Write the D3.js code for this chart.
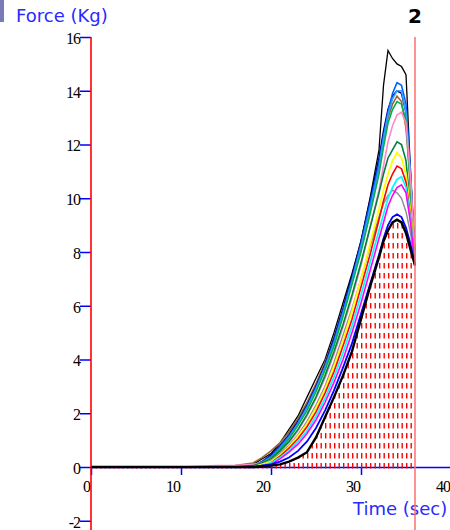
<!DOCTYPE html>
<html><head><meta charset="utf-8">
<script src="https://cdn.jsdelivr.net/npm/d3@7"></script>
<style>html,body{margin:0;padding:0;background:#fff;overflow:hidden}</style>
</head><body>
<svg id="c" width="450" height="530"></svg>
<script>
// ---- data ----
const times      = [0,10,14,16,18,19,20,21,22,23,24,25,26,27,28,29,30,31,32,32.5,33,33.5,34,34.5,35,35.5,36];
const blackThin  = [0,0,0,0,0.1,0.3,0.5,0.9,1.4,1.9,2.6,3.3,4.0,5.0,6.1,7.2,8.4,10.0,11.8,14.2,15.5,15.2,15.0,14.9,14.6,11.0,7.8];
const brown      = [0,0,0,0.05,0.15,0.35,0.6,0.9,1.3,1.8,2.4,3.1,3.9,4.8,5.8,6.9,8.1,9.6,11.2,12.2,13.0,13.5,13.8,13.6,12.6,10.5,7.9];
const navy       = [0,0,0,0,0.05,0.2,0.45,0.8,1.2,1.7,2.3,3.0,3.8,4.8,5.9,7.1,8.4,9.9,11.5,12.5,13.3,13.8,14.0,13.9,13.2,10.8,7.8];
const blue       = [0,0,0,0,0.05,0.2,0.4,0.75,1.15,1.65,2.25,2.95,3.75,4.7,5.8,7.0,8.3,9.8,11.3,12.3,13.2,13.9,14.3,14.2,13.5,11.0,7.9];
const sky        = [0,0,0,0,0.05,0.15,0.35,0.7,1.1,1.6,2.2,2.9,3.7,4.6,5.7,6.9,8.2,9.6,11.1,12.2,13.1,13.7,14.0,14.0,13.2,10.6,7.8];
const green      = [0,0,0,0,0.05,0.15,0.35,0.65,1.05,1.55,2.1,2.8,3.6,4.5,5.6,6.8,8.0,9.4,10.9,11.9,12.8,13.3,13.6,13.5,12.9,10.4,7.7];
const pink       = [0,0,0.05,0.05,0.1,0.15,0.3,0.55,0.9,1.35,1.9,2.55,3.3,4.2,5.2,6.3,7.5,8.9,10.3,11.2,12.1,12.7,13.1,13.2,12.8,10.8,7.9];
const darkGreen  = [0,0,0,0,0.05,0.15,0.3,0.6,0.95,1.4,1.95,2.6,3.4,4.3,5.3,6.4,7.6,8.9,10.2,10.9,11.5,11.8,12.1,12.0,11.4,9.6,7.6];
const gray       = [0,0,0,0,0,0.1,0.25,0.5,0.8,1.2,1.7,2.3,3.0,3.9,4.9,5.9,7.0,8.2,9.3,9.8,10.1,10.3,10.2,10.0,9.5,8.7,7.6];
const yellow     = [0,0,0,0,0,0.1,0.2,0.45,0.75,1.15,1.6,2.2,2.9,3.75,4.7,5.8,7.0,8.3,9.6,10.3,10.9,11.4,11.7,11.5,10.9,9.5,7.7];
const red        = [0,0,0,0,0,0.05,0.15,0.4,0.7,1.05,1.5,2.05,2.75,3.55,4.5,5.5,6.7,7.9,9.2,9.9,10.5,10.9,11.2,11.1,10.6,9.3,7.6];
const cyan       = [0,0,0,0,0,0.05,0.15,0.35,0.6,0.95,1.35,1.9,2.55,3.35,4.25,5.25,6.4,7.6,8.8,9.4,10.0,10.4,10.7,10.8,10.4,9.2,7.6];
const magenta    = [0,0,0,0,0,0.05,0.1,0.3,0.55,0.85,1.25,1.75,2.4,3.15,4.0,5.0,6.1,7.3,8.5,9.1,9.7,10.1,10.4,10.5,10.2,9.1,7.5];
const darkBlue   = [0,0,0,0,0,0.05,0.1,0.2,0.35,0.6,0.95,1.45,2.1,2.85,3.7,4.6,5.7,6.8,7.9,8.5,9.0,9.3,9.4,9.3,8.9,8.3,7.5];
const blackThick = [0,0,0,0,0,0.02,0.05,0.1,0.2,0.35,0.55,1.1,1.85,2.6,3.4,4.3,5.5,6.7,7.8,8.4,8.8,9.1,9.2,9.1,8.7,8.1,7.5];

const yTicks = [-2,0,2,4,6,8,10,12,14,16];
const xTicks = [0,10,20,30,40];
const yTitle = "Force (Kg)";
const xTitle = "Time (sec)";
const cursorLabel = "2";
const cursorTime = 36;

// ---- styles (kept apart from data) ----
const series = [
  {v: blackThin,  c: "#000000", w: 1.3},
  {v: brown,      c: "#996633", w: 1.6},
  {v: navy,       c: "#000080", w: 1.6},
  {v: blue,       c: "#0060ff", w: 1.6},
  {v: sky,        c: "#33a0ff", w: 1.6},
  {v: green,      c: "#00b050", w: 1.6},
  {v: pink,       c: "#ff88cc", w: 1.6},
  {v: darkGreen,  c: "#008040", w: 1.6},
  {v: gray,       c: "#909090", w: 1.5},
  {v: yellow,     c: "#ffff00", w: 1.8},
  {v: red,        c: "#ff0000", w: 1.6},
  {v: cyan,       c: "#00ffff", w: 1.8},
  {v: magenta,    c: "#ff00ff", w: 1.6},
  {v: darkBlue,   c: "#0000ff", w: 1.8},
  {v: blackThick, c: "#000000", w: 2.4}
];

const W = 450, H = 530;
const svg = d3.select("#c");
const x = d3.scaleLinear().domain([0, 40]).range([91, 451]);
const y = d3.scaleLinear().domain([-2, 16]).range([520.75, 37]);

// top-left decoration bar
svg.append("rect").attr("x", 0).attr("y", 0).attr("width", 4).attr("height", 22).attr("fill", "#7a7ab8");

// hatch pattern
const defs = svg.append("defs");
const pat = defs.append("pattern").attr("id", "hatch").attr("patternUnits", "userSpaceOnUse")
  .attr("x", 0).attr("y", 0).attr("width", 9).attr("height", 10);
pat.append("rect").attr("x", 1).attr("y", 3).attr("width", 1.4).attr("height", 5.5).attr("fill", "#ff0000");
pat.append("rect").attr("x", 5.5).attr("y", 3).attr("width", 1.4).attr("height", 5.5).attr("fill", "#ff0000");

// x axis (blue)
const xAxis = svg.append("g").attr("transform", `translate(0,${y(0)})`)
  .call(d3.axisBottom(x).tickValues(xTicks).tickSize(8).tickPadding(6).tickSizeOuter(0).tickFormat(d => String(d)));
xAxis.select(".domain").attr("stroke", "#0000ff").attr("stroke-width", 1.5);
xAxis.selectAll(".tick line").attr("stroke", "#0000ff").attr("stroke-width", 1.5);
xAxis.selectAll(".tick text").attr("fill", "#000").attr("text-anchor", "end").attr("dx", "-1.5")
  .style("font-family", "'Liberation Serif', 'DejaVu Serif', serif").style("font-size", "16px").style("letter-spacing", "-1px");

// y axis
const yAxis = svg.append("g").attr("transform", `translate(${x(0)},0)`)
  .call(d3.axisLeft(y).tickValues(yTicks).tickSize(11).tickPadding(0).tickFormat(d => String(d)));
yAxis.select(".domain").remove();
yAxis.selectAll(".tick line").attr("stroke", "#0000ff").attr("stroke-width", 1.5);
yAxis.selectAll(".tick text").attr("fill", "#000").attr("dy", "0.4em")
  .style("font-family", "'Liberation Serif', 'DejaVu Serif', serif").style("font-size", "16px").style("letter-spacing", "-1px");

// hatch area under the lowest curve
const lowest = times.map((t, i) => ({t, v: d3.min(series, s => s.v[i])}));
svg.append("path").datum(lowest)
  .attr("d", d3.area().x(d => x(d.t)).y0(y(0) + 2.5).y1(d => y(d.v)))
  .attr("fill", "url(#hatch)");

// curves
const line = d3.line().x((d) => x(d.t)).y(d => y(d.v));
series.forEach(s => {
  svg.append("path").datum(times.map((t, i) => ({t, v: s.v[i]})))
    .attr("d", line).attr("fill", "none").attr("stroke", s.c).attr("stroke-width", s.w)
    .attr("stroke-linejoin", "miter");
});

// red vertical y axis line
svg.append("line").attr("x1", x(0)).attr("x2", x(0)).attr("y1", y(16)).attr("y2", H)
  .attr("stroke", "#ff0000").attr("stroke-width", 1.6);

// titles
svg.append("text").attr("x", 16).attr("y", 22).text(yTitle)
  .attr("fill", "#2a2aff").style("font-family", "'DejaVu Sans', sans-serif").style("font-size", "18px");
svg.append("text").attr("x", 353).attr("y", 515).text(xTitle)
  .attr("fill", "#2a2aff").style("font-family", "'DejaVu Sans', sans-serif").style("font-size", "18px");

// cursor
svg.append("text").attr("x", x(cursorTime)).attr("y", 23).attr("text-anchor", "middle").text(cursorLabel)
  .attr("fill", "#000").style("font-family", "'DejaVu Sans', sans-serif").style("font-weight", "bold").style("font-size", "20px");
svg.append("line").attr("x1", x(cursorTime)).attr("x2", x(cursorTime)).attr("y1", y(16)).attr("y2", H)
  .attr("stroke", "#ff6f6f").attr("stroke-width", 1.5);
</script>
</body></html>
